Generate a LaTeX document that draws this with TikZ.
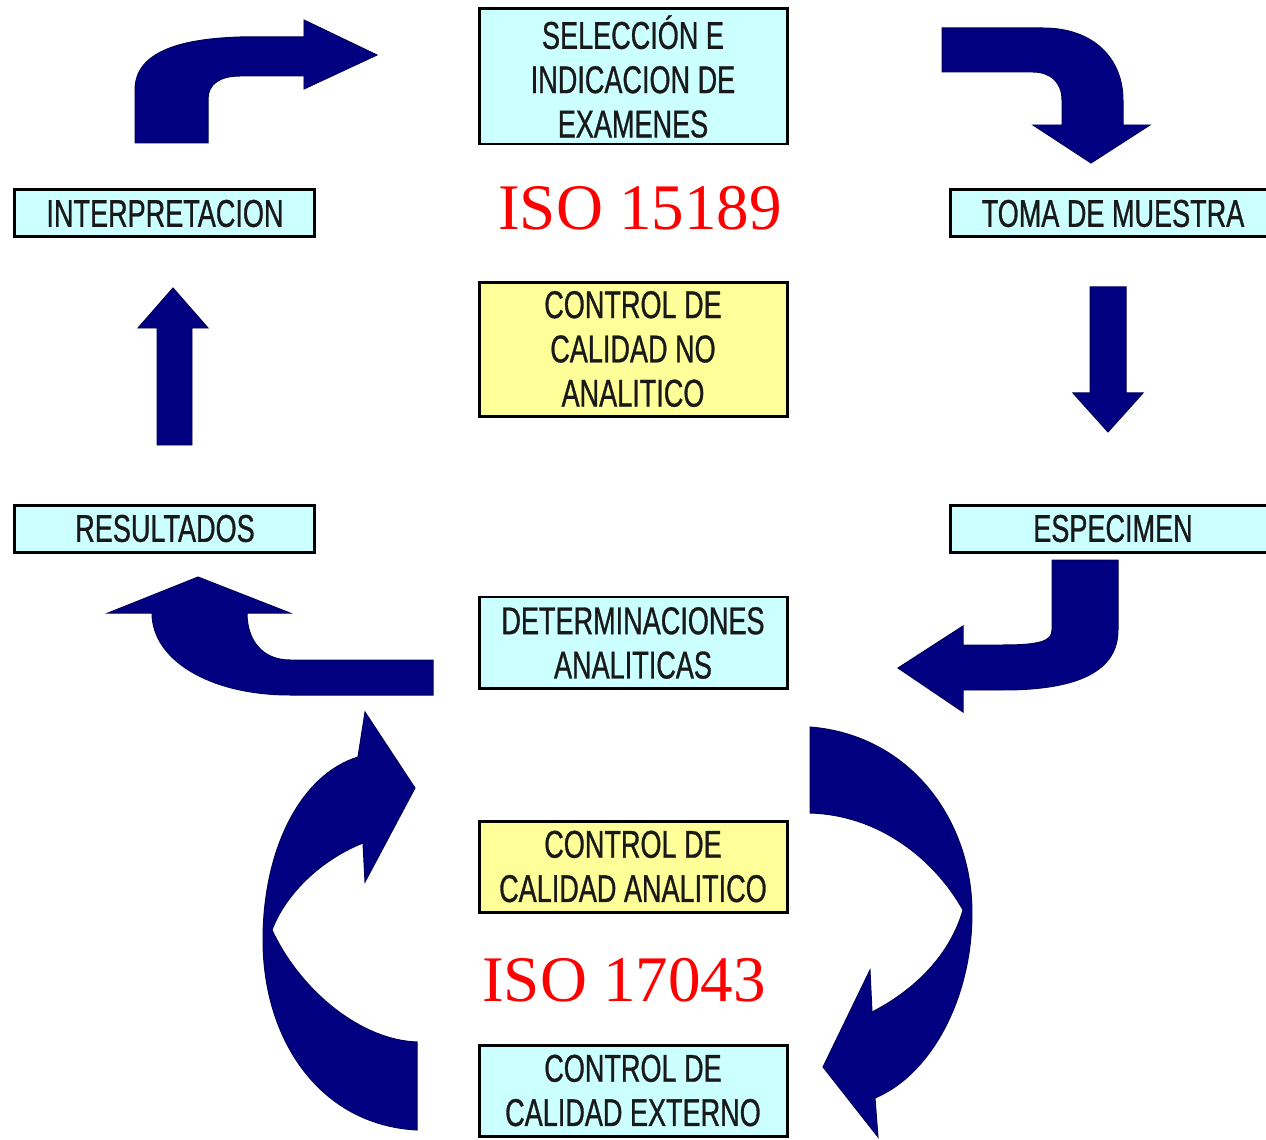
\documentclass[tikz,border=0pt]{standalone}
\usepackage{fontspec}
\setsansfont[FakeStretch=0.70,FakeBold=0.8]{Liberation Sans}
\newfontfamily\isofont{Liberation Serif}
\definecolor{boxcyan}{HTML}{CCFFFF}
\definecolor{boxyellow}{HTML}{FFFF99}
\definecolor{arrownavy}{HTML}{000080}
\definecolor{isored}{HTML}{FF0000}

\begin{document}
\begin{tikzpicture}[
  stepbox/.style={draw=black, line width=0.03cm, fill=boxcyan, inner sep=0pt, align=center,
    text=black!90, font=\sffamily\fontsize{11}{12.6}\selectfont},
  qcbox/.style={stepbox, fill=boxyellow},
  isolabel/.style={text=isored, font=\isofont\fontsize{18.5}{18.5}\selectfont},
  blockarrow/.style={fill=arrownavy, draw=arrownavy!70!black, line width=0.01cm}
]
\useasboundingbox (0,0) rectangle (12.66,11.39);

% Drawing box seleccion
\node [stepbox, minimum width=3.08cm, minimum height=1.35cm] (seleccion) at (6.33,10.625)
  {SELECCI\'ON E\\INDICACION DE\\EXAMENES};

% Drawing box interpretacion
\node [stepbox, minimum width=3.00cm, minimum height=0.47cm] (interpretacion) at (1.65,9.255)
  {INTERPRETACION};

% Drawing box toma de muestra
\node [stepbox, minimum width=3.26cm, minimum height=0.47cm] (toma) at (11.13,9.255)
  {TOMA DE MUESTRA};

% Drawing box control no analitico
\node [qcbox, minimum width=3.08cm, minimum height=1.34cm] (noanalitico) at (6.33,7.90)
  {CONTROL DE\\CALIDAD NO\\ANALITICO};

% Drawing box resultados
\node [stepbox, minimum width=3.00cm, minimum height=0.47cm] (resultados) at (1.65,6.105)
  {RESULTADOS};

% Drawing box especimen
\node [stepbox, minimum width=3.26cm, minimum height=0.47cm] (especimen) at (11.13,6.105)
  {ESPECIMEN};

% Drawing box determinaciones
\node [stepbox, minimum width=3.08cm, minimum height=0.92cm] (determinaciones) at (6.33,4.96)
  {DETERMINACIONES\\ANALITICAS};

% Drawing box control analitico
\node [qcbox, minimum width=3.08cm, minimum height=0.91cm] (analitico) at (6.33,2.725)
  {CONTROL DE\\CALIDAD ANALITICO};

% Drawing box control externo
\node [stepbox, minimum width=3.08cm, minimum height=0.91cm] (externo) at (6.33,0.485)
  {CONTROL DE\\CALIDAD EXTERNO};

% Marking the two standards
\node [isolabel] (isoA) at (6.40,9.31) {ISO 15189};
\node [isolabel] (isoB) at (6.24,1.59) {ISO 17043};

% Drawing arrow interpretacion -> seleccion
\draw [blockarrow] (1.35,9.96) -- (1.35,10.49) .. controls (1.35,10.85) and (1.75,11.00) .. (2.40,11.02)
  -- (3.04,11.02) -- (3.04,11.19) -- (3.77,10.84) -- (3.04,10.50) -- (3.04,10.63) -- (2.40,10.63)
  .. controls (2.20,10.63) and (2.08,10.55) .. (2.08,10.40) -- (2.08,9.96) -- cycle;

% Drawing arrow seleccion -> toma
\draw [blockarrow] (9.42,11.11) -- (10.43,11.11) .. controls (10.95,11.11) and (11.23,10.79) .. (11.23,10.39)
  -- (11.23,10.14) -- (11.50,10.14) -- (10.91,9.76) -- (10.33,10.14) -- (10.62,10.14) -- (10.62,10.39)
  .. controls (10.62,10.57) and (10.50,10.67) .. (10.33,10.67) -- (9.42,10.67) -- cycle;

% Drawing arrow toma -> especimen
\draw [blockarrow] (10.90,8.52) -- (11.26,8.52) -- (11.26,7.46) -- (11.43,7.46) -- (11.08,7.07)
  -- (10.73,7.46) -- (10.90,7.46) -- cycle;

% Drawing arrow resultados -> interpretacion
\draw [blockarrow] (1.57,6.94) -- (1.57,8.11) -- (1.38,8.11) -- (1.73,8.51) -- (2.08,8.11)
  -- (1.92,8.11) -- (1.92,6.94) -- cycle;

% Drawing arrow especimen -> determinaciones
\draw [blockarrow] (10.52,5.79) -- (11.18,5.79) -- (11.18,5.09) .. controls (11.18,4.64) and (10.70,4.49) .. (10.03,4.49)
  -- (9.63,4.49) -- (9.63,4.27) -- (8.98,4.71) -- (9.63,5.13) -- (9.63,4.94) -- (10.03,4.94)
  .. controls (10.40,4.94) and (10.52,4.98) .. (10.52,5.09) -- cycle;

% Drawing arrow determinaciones -> resultados
\draw [blockarrow] (4.33,4.79) -- (2.90,4.79) .. controls (2.62,4.79) and (2.47,4.99) .. (2.47,5.26)
  -- (2.90,5.26) -- (1.98,5.62) -- (1.08,5.26) -- (1.52,5.26)
  .. controls (1.52,4.79) and (2.10,4.44) .. (2.90,4.44) -- (4.33,4.44) -- cycle;

% Drawing arrow externo -> determinaciones
\draw [blockarrow] (4.17,0.09) .. controls (3.20,0.14) and (2.63,0.99) .. (2.63,1.99)
  .. controls (2.63,2.89) and (3.00,3.64) .. (3.58,3.82) -- (3.65,4.27) -- (4.15,3.51) -- (3.65,2.57)
  -- (3.63,2.96) .. controls (3.20,2.79) and (2.85,2.44) .. (2.72,2.09)
  .. controls (3.00,1.49) and (3.60,0.99) .. (4.17,0.97) -- cycle;

% Drawing arrow determinaciones -> externo
\draw [blockarrow] (8.10,4.12) .. controls (9.10,4.04) and (9.72,3.19) .. (9.72,2.26)
  .. controls (9.72,1.39) and (9.30,0.64) .. (8.75,0.41) -- (8.78,0.02) -- (8.23,0.72) -- (8.70,1.69)
  -- (8.72,1.27) .. controls (9.15,1.49) and (9.50,1.84) .. (9.63,2.29)
  .. controls (9.35,2.79) and (8.80,3.24) .. (8.10,3.26) -- cycle;
\end{tikzpicture}
\end{document}
